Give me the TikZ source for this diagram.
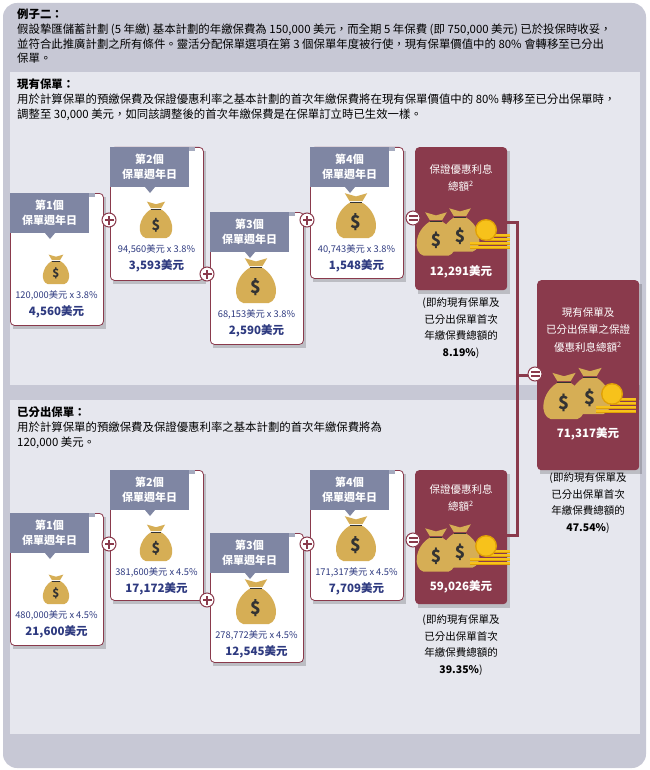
\documentclass[tikz,border=0pt]{standalone}
\usepackage{fontspec}
\setmainfont{Noto Sans CJK TC}
\usetikzlibrary{calc}
\definecolor{outerbg}{HTML}{C7C8D5}
\definecolor{panelbg}{HTML}{E6E7EE}
\definecolor{maroon}{HTML}{8A3A4C}
\definecolor{tagc}{HTML}{7F86A3}
\definecolor{navy}{HTML}{2E3A80}
\definecolor{gold}{HTML}{D6AE55}
\definecolor{coin}{HTML}{F7C21B}
\definecolor{coind}{HTML}{E0A106}
\tikzset{
  tagtext/.style={text=white,font=\bfseries\fontsize{11}{15}\selectfont,align=center},
  prodtext/.style={text=navy,font=\fontsize{9.3}{10}\selectfont},
  restext/.style={text=navy,font=\bfseries\fontsize{11.5}{12}\selectfont},
  notetext/.style={font=\fontsize{10.5}{16.5}\selectfont,align=center},
  opcirc/.style={circle,draw=maroon,line width=1pt,fill=white,minimum size=14pt,inner sep=0pt},
  hdrtext/.style={anchor=north west,align=left,inner sep=0pt,font=\fontsize{11.4}{14.6}\selectfont},
}
\newcommand\mybag[3]{% x y scale
\begin{scope}[shift={(#1,#2)},scale=#3]
\fill[gold] (-4,-9) -- (-7,-14) -- (0,-12) -- (7,-14) -- (4,-9) -- cycle;
\fill[gold] (-4,-8) .. controls (-14,-2) and (-15,12) .. (-8,14) -- (8,14) .. controls (15,12) and (14,-2) .. (4,-8) -- cycle;
\draw[black!80,line width=0.8pt] (-4,-8) -- (4,-8);
\node[font=\bfseries\fontsize{11}{11}\selectfont,text=black!80,scale=#3] at (0,4) {\$};
\end{scope}}
\newcommand\mycoins[2]{% x y
\begin{scope}[shift={(#1,#2)}]
\foreach \k in {0,1,2,3} {\fill[coind] (4,{14-4*\k}) rectangle (28,{17-4*\k});\fill[coin] (4,{14-4*\k}) rectangle (28,{16-4*\k});}
\foreach \k in {0,1} {\fill[coind] (-12,{14-4*\k}) rectangle (8,{17-4*\k});\fill[coin] (-12,{14-4*\k}) rectangle (8,{16-4*\k});}
\fill[coind] (4,-2) circle (11);\fill[coin] (4,-2) circle (9.5);
\end{scope}}
\newcommand\mycard[8]{% name x y h tag prod res bagscale
\fill[black,opacity=0.18] ($(#2,#3)+(3,4)$) rectangle ++(93,#4);
\node[draw=maroon,line width=0.8pt,fill=white,rounded corners=4pt,minimum width=93pt,minimum height=#4 pt,anchor=north west,inner sep=0pt] (#1) at (#2,#3) {};
\fill[tagc!70] ($(#2,#3)+(60,0)$) rectangle ++(25,4);
\fill[tagc] (#2,#3) rectangle ++(79,40);
\fill[tagc] ($(#2,#3)+(35,40)$) -- ++(5,6) -- ++(5,-6) -- cycle;
\node[tagtext] at ($(#2,#3)+(39.5,20)$) {#5\\保單週年日};
\mybag{#2+46}{#3+91-14*#8}{#8}
\node[prodtext] at ($(#2,#3)+(46.5,102)$) {#6};
\node[restext] at ($(#2,#3)+(46.5,119)$) {#7};
}
\newcommand\myres[6]{% name x y w h title
\fill[black,opacity=0.18] ($(#2,#3)+(3,4)$) rectangle ++(#4,#5);
\node[fill=maroon,rounded corners=4pt,minimum width=#4 pt,minimum height=#5 pt,anchor=north west,inner sep=0pt] (#1) at (#2,#3) {};
}
\newcommand\plusop[3]{\node[opcirc] (#1) at (#2,#3) {};
\fill[maroon] ($(#1)+(-4.5,-1.4)$) rectangle ($(#1)+(4.5,1.4)$);
\fill[maroon] ($(#1)+(-1.4,-4.5)$) rectangle ($(#1)+(1.4,4.5)$);}
\newcommand\eqop[3]{\node[opcirc] (#1) at (#2,#3) {};
\fill[maroon] ($(#1)+(-4.5,0.8)$) rectangle ($(#1)+(4.5,3)$);
\fill[maroon] ($(#1)+(-4.5,-0.8)$) rectangle ($(#1)+(4.5,-3)$);}
\begin{document}
\begin{tikzpicture}[x=1pt,y=-1pt]
\useasboundingbox (0,0) rectangle (649,770);
\fill[outerbg,rounded corners=14pt] (3,3) rectangle (646,768);
\fill[panelbg] (10,72) rectangle (640,385);
\fill[panelbg] (10,400) rectangle (640,734);
\node[hdrtext] (hdr) at (17,9) {\textbf{例子二：}\\假設摯匯儲蓄計劃 (5 年繳) 基本計劃的年繳保費為 150,000 美元，而全期 5 年保費 (即 750,000 美元) 已於投保時收妥，\\並符合此推廣計劃之所有條件。靈活分配保單選項在第 3 個保單年度被行使，現有保單價值中的 80\% 會轉移至已分出\\保單。};
\node[hdrtext] (p1) at (17,79) {\textbf{現有保單：}\\用於計算保單的預繳保費及保證優惠利率之基本計劃的首次年繳保費將在現有保單價值中的 80\% 轉移至已分出保單時，\\調整至 30,000 美元，如同該調整後的首次年繳保費是在保單訂立時已生效一樣。};
\node[hdrtext] (p2) at (17,407) {\textbf{已分出保單：}\\用於計算保單的預繳保費及保證優惠利率之基本計劃的首次年繳保費將為\\120,000 美元。};
% connectors
\myres{r1}{415}{147}{92}{143}{}
\myres{r2}{415}{470}{92}{134}{}
\myres{rt}{537}{280}{102}{190}{}
\coordinate (j1) at (517,222);
\coordinate (j2) at (517,535);
\coordinate (jm) at (517,375);
\draw[maroon,line width=3pt] (r1.east|-j1) -- (j1) -- (j2) -- (r2.east|-j2);
\draw[maroon,line width=3pt] (jm) -- (rt.west|-jm);
% panel 1
\mycard{c1}{10}{193}{132}{第1個}{120,000美元 x 3.8\%}{4,560美元}{1.05}
\mycard{c2}{110}{147}{133}{第2個}{94,560美元 x 3.8\%}{3,593美元}{1.3}
\mycard{c3}{210}{212}{132}{第3個}{68,153美元 x 3.8\%}{2,590美元}{1.6}
\mycard{c4}{310}{147}{131}{第4個}{40,743美元 x 3.8\%}{1,548美元}{1.6}
\plusop{p1a}{109}{220}
\plusop{p1b}{207}{274}
\plusop{p1c}{307}{220}
\eqop{e1}{413}{218}
% panel 2
\mycard{d1}{10}{513}{132}{第1個}{480,000美元 x 4.5\%}{21,600美元}{1.05}
\mycard{d2}{110}{470}{130}{第2個}{381,600美元 x 4.5\%}{17,172美元}{1.3}
\mycard{d3}{210}{533}{129}{第3個}{278,772美元 x 4.5\%}{12,545美元}{1.6}
\mycard{d4}{310}{470}{130}{第4個}{171,317美元 x 4.5\%}{7,709美元}{1.6}
\plusop{p2a}{109}{544}
\plusop{p2b}{207}{600}
\plusop{p2c}{307}{544}
\eqop{e2}{413}{540}
\eqop{e3}{535}{374}
% result contents
\node[text=white,font=\fontsize{10.5}{17}\selectfont,align=center] at (461,178) {保證優惠利息\\總額\textsuperscript{2}};
\mybag{436}{234}{1.55}\mybag{460}{230}{1.55}\mycoins{482}{232}
\node[text=white,font=\bfseries\fontsize{11.5}{12}\selectfont] at (461,272) {12,291美元};
\node[notetext] at (461,328) {(即約現有保單及\\已分出保單首次\\年繳保費總額的\\\textbf{8.19\%})};
\node[text=white,font=\fontsize{10.5}{17}\selectfont,align=center] at (461,498) {保證優惠利息\\總額\textsuperscript{2}};
\mybag{436}{550}{1.55}\mybag{460}{546}{1.55}\mycoins{482}{548}
\node[text=white,font=\bfseries\fontsize{11.5}{12}\selectfont] at (461,587) {59,026美元};
\node[notetext] at (461,645) {(即約現有保單及\\已分出保單首次\\年繳保費總額的\\\textbf{39.35\%})};
\node[text=white,font=\fontsize{10.5}{17.5}\selectfont,align=center] at (588,330) {現有保單及\\已分出保單之保證\\優惠利息總額\textsuperscript{2}};
\mybag{564}{396}{1.65}\mybag{590}{391}{1.65}\mycoins{608}{396}
\node[text=white,font=\bfseries\fontsize{11.5}{12}\selectfont] at (588,434) {71,317美元};
\node[notetext] at (588,503) {(即約現有保單及\\已分出保單首次\\年繳保費總額的\\\textbf{47.54\%})};
\end{tikzpicture}
\end{document}
